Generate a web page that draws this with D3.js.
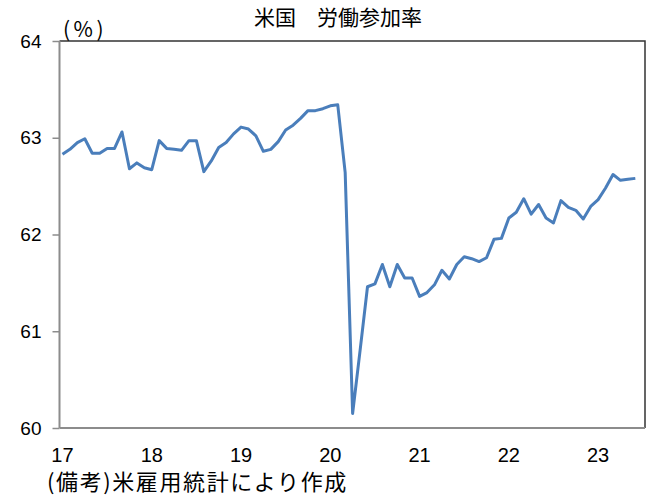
<!DOCTYPE html>
<html>
<head>
<meta charset="utf-8">
<script src="https://cdn.jsdelivr.net/npm/d3@7"></script>
<style>
  body { margin: 0; background: #fff; }
  svg { display: block; }
  .jp { font-family: "Noto Sans CJK JP", sans-serif; }
  .num { font-family: "Liberation Sans", Arial, sans-serif; }
</style>
</head>
<body>
<script>
const width = 666,
      height = 498;

// monthly, Jan 2017 - Jun 2023 (%)
const rate = [
  62.83, 62.88, 62.95, 62.99, 62.84, 62.84, 62.89, 62.89, 63.06, 62.68, 62.74, 62.69,
  62.67, 62.97, 62.89, 62.88, 62.87, 62.97, 62.97, 62.65, 62.76, 62.90, 62.95, 63.04,
  63.11, 63.09, 63.02, 62.86, 62.88, 62.96, 63.08, 63.13, 63.20, 63.28, 63.28, 63.30,
  63.33, 63.34, 62.64, 60.15, 60.80, 61.46, 61.49, 61.69, 61.46, 61.69, 61.55, 61.55,
  61.36, 61.40, 61.48, 61.63, 61.54, 61.69, 61.77, 61.75, 61.72, 61.76, 61.95, 61.96,
  62.17, 62.23, 62.37, 62.21, 62.31, 62.17, 62.12, 62.35, 62.28, 62.25, 62.16, 62.29,
  62.36, 62.48, 62.62, 62.56, 62.57, 62.58
];
const yearLabels = ["17", "18", "19", "20", "21", "22", "23"];
const yTicks = [60, 61, 62, 63, 64];

const plotLeft = 59.5, plotRight = 645, plotTop = 41, plotBottom = 428;

const svg = d3.select("body")
              .append("svg")
              .attr("width", width)
              .attr("height", height);

const x = d3.scaleLinear()
            .domain([-0.4, 78.3])
            .range([plotLeft, plotRight]);
const y = d3.scaleLinear()
            .domain([60, 64])
            .range([plotBottom, plotTop]);

// plot frame (top / right)
svg.append("path")
   .attr("d", `M${plotLeft},${plotTop}H${plotRight}V${plotBottom}`)
   .attr("fill", "none")
   .attr("stroke", "#333")
   .attr("stroke-width", 1.5);

// y axis
const yAxis = svg.append("g")
                 .attr("transform", `translate(${plotLeft},0)`)
                 .call(d3.axisLeft(y).tickValues(yTicks).tickSize(7).tickPadding(11).tickFormat(d3.format("d")));
yAxis.select(".domain").remove();
yAxis.selectAll("line").attr("stroke", "#8c8c8c").attr("stroke-width", 1.5);
yAxis.selectAll("text")
     .attr("class", "num")
     .attr("font-size", 19)
     .attr("fill", "#000");
yAxis.append("line")
     .attr("y1", plotTop).attr("y2", plotBottom)
     .attr("stroke", "#8c8c8c").attr("stroke-width", 2);

// x axis
svg.append("line")
   .attr("x1", plotLeft).attr("x2", plotRight)
   .attr("y1", plotBottom).attr("y2", plotBottom)
   .attr("stroke", "#8c8c8c").attr("stroke-width", 2);

svg.append("g")
   .selectAll("text")
   .data(yearLabels)
   .enter()
   .append("text")
   .attr("class", "num")
   .attr("x", (d, i) => x(i * 12))
   .attr("y", 462)
   .attr("text-anchor", "middle")
   .attr("font-size", 20)
   .text(d => d);

// line
const line = d3.line()
               .x((d, i) => x(i))
               .y(d => y(d));

svg.append("path")
   .datum(rate)
   .attr("d", line)
   .attr("fill", "none")
   .attr("stroke", "#4a7ebb")
   .attr("stroke-width", 3)
   .attr("stroke-linejoin", "round");

// texts
svg.append("text")
   .attr("class", "jp")
   .attr("x", 338).attr("y", 25)
   .attr("text-anchor", "middle")
   .attr("font-size", 21)
   .text("米国　労働参加率");

svg.append("text")
   .attr("class", "jp")
   .attr("x", 63).attr("y", 37)
   .attr("font-size", 21)
   .attr("letter-spacing", 3.5)
   .text("(%)");

svg.append("text")
   .attr("class", "jp")
   .attr("x", 47).attr("y", 490)
   .attr("font-size", 22)
   .attr("letter-spacing", 1.6)
   .text("(備考)米雇用統計により作成");
</script>
</body>
</html>
